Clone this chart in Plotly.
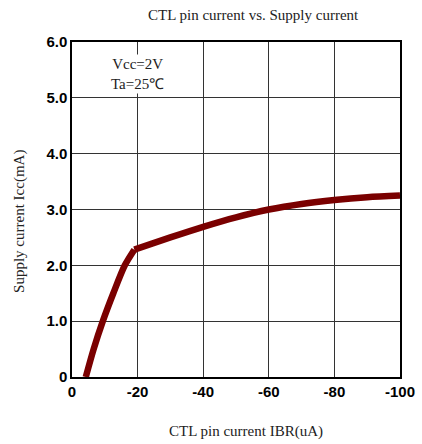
import plotly.graph_objects as go

title = "CTL pin current vs. Supply current"
x_title = "CTL pin current IBR(uA)"
y_title = "Supply current Icc(mA)"

# steep lower segment (up to the knee) and flatter upper segment (from the knee)
ibr_low = [-4.2, -6.6, -9.4, -12.6, -16.1, -19.0]
icc_low = [0.0, 0.5, 1.0, 1.5, 2.0, 2.28]
ibr_high = [-19.0, -30, -40, -50, -60, -70, -80, -90, -100]
icc_high = [2.28, 2.50, 2.69, 2.86, 3.00, 3.10, 3.17, 3.22, 3.25]

x_ticks = [0, -20, -40, -60, -80, -100]
x_labels = ["0", "-20", "-40", "-60", "-80", "-100"]
y_ticks = [0, 1, 2, 3, 4, 5, 6]
y_labels = ["0", "1.0", "2.0", "3.0", "4.0", "5.0", "6.0"]

serif = "Liberation Serif, Times New Roman, serif"
sans = "Liberation Sans, Arial, sans-serif"
curve_color = "#7a0000"

fig = go.Figure()
for xs, ys in ((ibr_low, icc_low), (ibr_high, icc_high)):
    fig.add_trace(go.Scatter(x=xs, y=ys, mode="lines",
                             line=dict(color=curve_color, width=6.5, shape="spline", smoothing=0.8),
                             showlegend=False, hoverinfo="skip"))

fig.add_annotation(x=-20, y=5.42, xref="x", yref="y",
                   text="Vcc=2V<br>Ta=25℃", showarrow=False,
                   font=dict(family=serif, size=15, color="#222"),
                   bgcolor="white", borderpad=1)

# titles as annotations for exact placement
fig.add_annotation(x=0.552, y=1.081, xref="paper", yref="paper", text=title,
                   showarrow=False, xanchor="center", yanchor="middle",
                   font=dict(family=serif, size=15, color="#222"))
fig.add_annotation(x=0.53, y=-0.164, xref="paper", yref="paper", text=x_title,
                   showarrow=False, xanchor="center", yanchor="middle",
                   font=dict(family=serif, size=15, color="#222"))
fig.add_annotation(x=-0.1585, y=0.463, xref="paper", yref="paper", text=y_title,
                   showarrow=False, xanchor="center", yanchor="middle", textangle=-90,
                   font=dict(family=serif, size=15, color="#222"))

axis_common = dict(showline=True, linecolor="black", linewidth=1.5, mirror=True,
                   showgrid=True, gridcolor="#333", gridwidth=1, zeroline=False,
                   ticks="", automargin=False,
                   tickfont=dict(family=sans, size=15, color="black"))

fig.update_layout(
    width=422, height=444,
    margin=dict(l=72, r=22, t=42, b=67),
    paper_bgcolor="white", plot_bgcolor="white",
    xaxis=dict(range=[0, -100], tickvals=x_ticks, ticktext=[f"<b>{t}</b>" for t in x_labels],
               **axis_common),
    yaxis=dict(range=[0, 6], tickvals=y_ticks, ticktext=[f"<b>{t}</b>" for t in y_labels],
               **axis_common),
)

fig.write_html("out.html")
